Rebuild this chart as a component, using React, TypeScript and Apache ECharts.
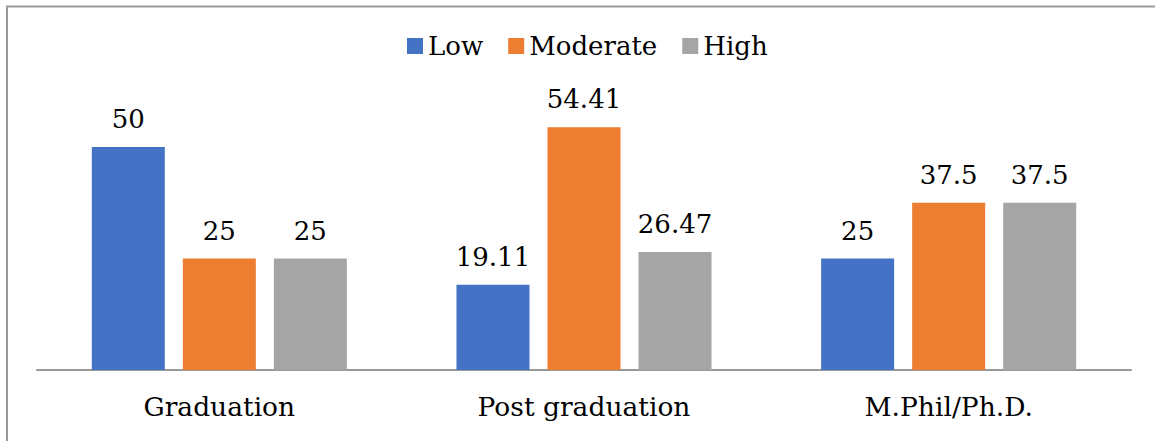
import React, { useEffect, useRef } from "react";
import * as echarts from "echarts";

const categories = ["Graduation", "Post graduation", "M.Phil/Ph.D."];
const seriesNames = ["Low", "Moderate", "High"];
const lowValues = [50, 19.11, 25];
const moderateValues = [25, 54.41, 37.5];
const highValues = [25, 26.47, 37.5];
const colors = ["#4472C4", "#ED7D31", "#A5A5A5"];

const FONT = "DejaVu Serif";

export default function App() {
  const ref = useRef<HTMLDivElement>(null);
  useEffect(() => {
    if (!ref.current) return;
    const chart = echarts.init(ref.current, null, { renderer: "svg" });
    const values = [lowValues, moderateValues, highValues];
    chart.setOption({
      animation: false,
      backgroundColor: "#ffffff",
      textStyle: { fontFamily: FONT },
      graphic: [
        {
          type: "rect",
          shape: { x: 7, y: 6.5, width: 1300, height: 600 },
          style: { fill: "none", stroke: "#9a9a9a", lineWidth: 2 },
          silent: true,
        },
      ],
      legend: {
        data: seriesNames,
        left: 407,
        top: 33,
        padding: 0,
        itemWidth: 16,
        itemHeight: 16,
        itemGap: 25,
        icon: "rect",
        textStyle: { fontFamily: FONT, fontSize: 26, color: "#000" },
      },
      grid: { left: 37, right: 24, top: 102.4, bottom: 71 },
      xAxis: {
        type: "category",
        data: categories,
        axisLine: { show: true, lineStyle: { color: "#999999", width: 2 } },
        axisTick: { show: false },
        axisLabel: {
          fontFamily: FONT,
          fontSize: 26.5,
          color: "#000",
          margin: 23,
        },
      },
      yAxis: {
        type: "value",
        min: 0,
        max: 60,
        show: false,
        splitLine: { show: false },
      },
      series: seriesNames.map((name, i) => ({
        name,
        type: "bar",
        data: values[i],
        barWidth: 73,
        barGap: "24.7%",
        itemStyle: { color: colors[i] },
        label: {
          show: true,
          position: "top",
          distance: 15,
          fontFamily: FONT,
          fontSize: 26,
          color: "#000",
        },
      })),
    });
    return () => chart.dispose();
  }, []);
  return (
    <div
      ref={ref}
      style={{ position: "absolute", left: 0, top: 0, width: 1155, height: 441 }}
    />
  );
}
